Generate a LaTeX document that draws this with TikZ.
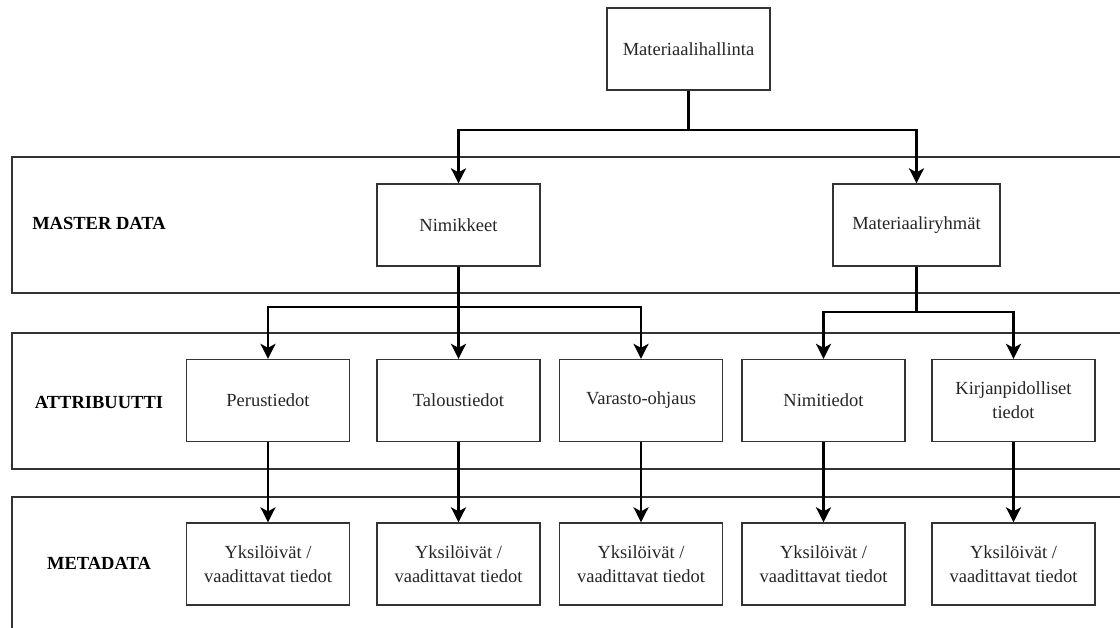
\documentclass[tikz,border=0pt]{standalone}
\usepackage{fontspec}
\setmainfont{Liberation Serif}
\usetikzlibrary{arrows.meta}
\definecolor{linec}{HTML}{333333}
\definecolor{textc}{HTML}{262626}
\tikzset{
  band/.style={draw=linec, line width=1.3pt},
  bx/.style={draw=linec, line width=1.3pt, fill=white, minimum width=163pt, minimum height=82pt,
    inner sep=2pt, align=center, text=textc, font=\fontsize{18.5}{24}\selectfont},
  bandlabel/.style={font=\bfseries\fontsize{18.5}{24}\selectfont, text=black},
  arr/.style={draw=black, line width=2.6pt, -{Stealth[length=15pt,width=15pt,inset=4pt]}},
  conn/.style={draw=black, line width=2.6pt}
}
\begin{document}
\begin{tikzpicture}[x=1pt,y=-1pt]
\clip (0,0) rectangle (1120,628);
\fill[white] (0,0) rectangle (1120,628);
% bands
\draw[band] (1130,157) -- (12,157) -- (12,293) -- (1130,293);
\draw[band] (1130,333) -- (12,333) -- (12,469) -- (1130,469);
\draw[band] (1130,497) -- (12,497) -- (12,640);
\node[bandlabel] (lm) at (99,223) {MASTER DATA};
\node[bandlabel] (la) at (99,402) {ATTRIBUUTTI};
\node[bandlabel] (lmd) at (99,563) {METADATA};
% boxes
\node[bx] (top) at (688.5,49) {Materiaalihallinta};
\node[bx] (nim) at (458.5,225) {Nimikkeet};
\node[bx, minimum width=167pt] (mat) at (916.5,225) {Materiaaliryhmät};
\node[bx] (p) at (268,400.5) {Perustiedot};
\node[bx] (t) at (458.5,400.5) {Taloustiedot};
\node[bx] (v) at (641,400.5) {Varasto-ohjaus};
\node[bx] (n) at (823.5,400.5) {Nimitiedot};
\node[bx] (k) at (1013.5,400.5) {Kirjanpidolliset\\tiedot};
\node[bx] (p2) at (268,564) {Yksilöivät /\\vaadittavat tiedot};
\node[bx] (t2) at (458.5,564) {Yksilöivät /\\vaadittavat tiedot};
\node[bx] (v2) at (641,564) {Yksilöivät /\\vaadittavat tiedot};
\node[bx] (n2) at (823.5,564) {Yksilöivät /\\vaadittavat tiedot};
\node[bx] (k2) at (1013.5,564) {Yksilöivät /\\vaadittavat tiedot};
% bus levels
\coordinate (b0) at (0,130);
\coordinate (b1) at (0,307);
\coordinate (b2) at (0,312);
% connectors
\draw[arr] (top.south) -- (top.south |- b0) -| (nim.north);
\draw[arr] (top.south) -- (top.south |- b0) -| (mat.north);
\draw[arr] (nim.south) -- (nim.south |- b1) -| (p.north);
\draw[arr] (nim.south) -- (t.north);
\draw[arr] (nim.south) -- (nim.south |- b1) -| (v.north);
\draw[arr] (mat.south) -- (mat.south |- b2) -| (n.north);
\draw[arr] (mat.south) -- (mat.south |- b2) -| (k.north);
\draw[arr] (p.south) -- (p2.north);
\draw[arr] (t.south) -- (t2.north);
\draw[arr] (v.south) -- (v2.north);
\draw[arr] (n.south) -- (n2.north);
\draw[arr] (k.south) -- (k2.north);
\end{tikzpicture}
\end{document}
